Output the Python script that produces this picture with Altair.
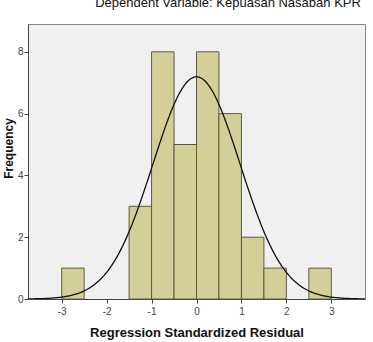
import altair as alt
import pandas as pd

# Histogram data (bin start, bin end, count)
bin_start = [-3.0, -1.5, -1.0, -0.5, 0.0, 0.5, 1.0, 1.5, 2.5]
bin_end = [-2.5, -1.0, -0.5, 0.0, 0.5, 1.0, 1.5, 2.0, 3.0]
counts = [1, 3, 8, 5, 8, 6, 2, 1, 1]

# Normal curve parameters
curve_mean = 0.0
curve_sd = 0.971
n_total = 35
bin_width = 0.5

x_ticks = [-3, -2, -1, 0, 1, 2, 3]
y_ticks = [0, 2, 4, 6, 8]
title_text = ["Dependent Variable: Kepuasan Nasabah KPR"]

bars_df = pd.DataFrame({"start": bin_start, "end": bin_end, "count": counts})

xs = alt.Scale(domain=[-3.75, 3.75], nice=False, zero=False)
ys = alt.Scale(domain=[0, 8.9], nice=False)

bars = alt.Chart(bars_df).mark_rect(
    fill="#d4cf98", stroke="#5e5c40", strokeWidth=1
).encode(
    x=alt.X("start:Q", scale=xs,
            axis=alt.Axis(values=x_ticks, title="Regression Standardized Residual",
                          labelFontSize=10, labelColor="#444", tickColor="#444",
                          domainColor="#444", tickSize=4, grid=False,
                          titleFontSize=13, titleFontWeight="bold", titleColor="#111",
                          titlePadding=10, titleFont="Liberation Sans",
                          labelFont="Liberation Sans", labelPadding=3,
                          labelExpr="datum.value < 0 ? '-' + abs(datum.value) : '' + datum.value")),
    x2="end:Q",
    y=alt.Y("count:Q", scale=ys,
            axis=alt.Axis(values=y_ticks, title="Frequency",
                          labelFontSize=10, labelColor="#444", tickColor="#444",
                          domainColor="#444", tickSize=4, grid=False,
                          titleFontSize=12, titleFontWeight="bold", titleColor="#111",
                          titleX=-20, titleY=124, titleAngle=-90,
                          titleAlign="center", titleBaseline="middle",
                          titleFont="Liberation Sans", labelFont="Liberation Sans",
                          labelPadding=1)),
    y2=alt.datum(0),
)

curve = alt.Chart(alt.sequence(-3.75, 3.76, 0.02, as_="x")).transform_calculate(
    y=f"{n_total * bin_width} * densityNormal(datum.x, {curve_mean}, {curve_sd})"
).mark_line(color="#111", strokeWidth=1.3, clip=True).encode(
    x=alt.X("x:Q", scale=xs),
    y=alt.Y("y:Q", scale=ys),
)

title = alt.Chart(pd.DataFrame({"t": title_text})).mark_text(
    fontSize=13, font="Liberation Sans", color="#111", align="center",
    baseline="alphabetic"
).encode(
    text="t:N", x=alt.value(200), y=alt.value(-17)
)

chart = alt.layer(bars, curve, title).properties(
    width=337, height=275,
    autosize=alt.AutoSizeParams(type="none"),
    padding={"left": 28, "top": 24, "right": 8, "bottom": 43},
    background="white",
).configure_view(
    fill="#f0f0f0", stroke="#888", strokeWidth=1
)

chart.save("out.html", embed_options={"renderer": "svg", "actions": False})
